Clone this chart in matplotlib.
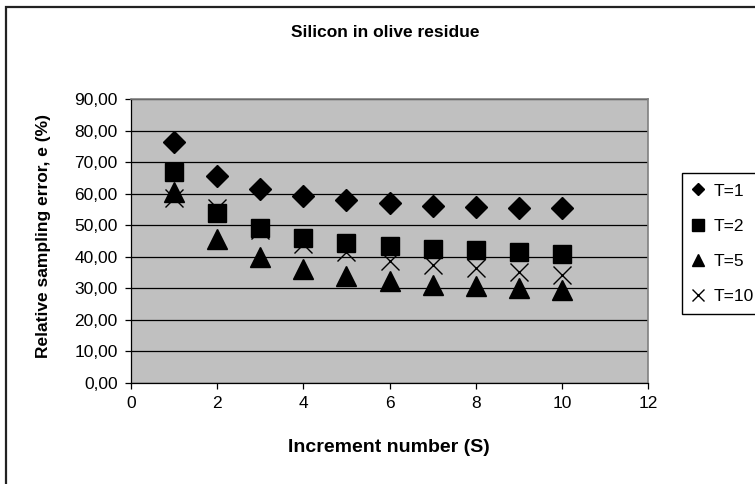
import matplotlib.pyplot as plt
import matplotlib.patches as mpatches
from matplotlib.ticker import FuncFormatter, MultipleLocator

plt.rcParams['font.family'] = ['Liberation Sans', 'DejaVu Sans']

# Relative sampling error per increment number, for each T
increments = [1, 2, 3, 4, 5, 6, 7, 8, 9, 10]
t1 = [76.5, 65.5, 61.5, 59.2, 58.0, 57.0, 56.2, 55.8, 55.6, 55.4]
t2 = [67.0, 54.0, 49.0, 46.0, 44.3, 43.3, 42.6, 42.0, 41.5, 41.0]
t5 = [60.5, 45.5, 40.0, 36.2, 34.0, 32.3, 31.2, 30.6, 30.0, 29.5]
t10 = [58.5, 55.6, 48.5, 44.0, 41.5, 38.7, 37.4, 36.3, 35.3, 34.2]

W, H = 755, 484
fig = plt.figure(figsize=(W / 100, H / 100), dpi=100)

# chart area frame (left and top edges only visible)
fig.patches.append(mpatches.Rectangle((6 / W, -0.1), 1.2, 1 - 7 / H + 0.1,
                                      transform=fig.transFigure, fill=False,
                                      edgecolor='#222222', linewidth=1.6))

ax = fig.add_axes([131 / W, (H - 383) / H, (648 - 131) / W, (383 - 99) / H])
ax.set_facecolor('#c0c0c0')

ms = 13.5
ax.plot(increments, t10, linestyle='none', marker='x', ms=ms, mew=1.0,
        color='black', label='T=10', zorder=2)
ax.plot(increments, t1, linestyle='none', marker='D', ms=ms / 1.25,
        color='black', label='T=1', zorder=3)
ax.plot(increments, t2, linestyle='none', marker='s', ms=ms,
        color='black', label='T=2', zorder=3)
ax.plot(increments, t5, linestyle='none', marker='^', ms=ms + 0.5,
        color='black', label='T=5', zorder=3)

ax.set_xlim(0, 12)
ax.set_ylim(0, 90)
ax.xaxis.set_major_locator(MultipleLocator(2))
ax.yaxis.set_major_locator(MultipleLocator(10))
ax.yaxis.set_major_formatter(FuncFormatter(lambda v, p: f'{v:.2f}'.replace('.', ',')))
ax.grid(axis='y', color='black', linewidth=0.9)
ax.set_axisbelow(True)

ax.tick_params(direction='out', length=4.5, width=0.9, labelsize=12.5, pad=5)
for side in ['top', 'right']:
    ax.spines[side].set_color('#808080')
    ax.spines[side].set_linewidth(1.2)
for side in ['left', 'bottom']:
    ax.spines[side].set_color('black')
    ax.spines[side].set_linewidth(0.9)

fig.text(385 / W, 1 - 33 / H, 'Silicon in olive residue', ha='center',
         va='center', fontsize=12.5, fontweight='bold')
fig.text(389 / W, 1 - 448 / H, 'Increment number (S)', ha='center',
         va='center', fontsize=14, fontweight='bold')
fig.text(44 / W, 1 - 236 / H, 'Relative sampling error, e (%)', ha='center',
         va='center', rotation=90, fontsize=12.5, fontweight='bold')

handles, labels = ax.get_legend_handles_labels()
order = [1, 2, 3, 0]
leg = fig.legend([handles[i] for i in order], [labels[i] for i in order],
                 loc='upper left', bbox_to_anchor=(682 / W, 1 - 173 / H),
                 fontsize=12.5, frameon=True, fancybox=False, framealpha=1,
                 edgecolor='black', handlelength=0.7, handletextpad=0.5,
                 labelspacing=1.15, borderpad=0.6, markerscale=0.6,
                 borderaxespad=0)
leg.get_frame().set_linewidth(1.0)

fig.savefig('out.png', dpi=100)
